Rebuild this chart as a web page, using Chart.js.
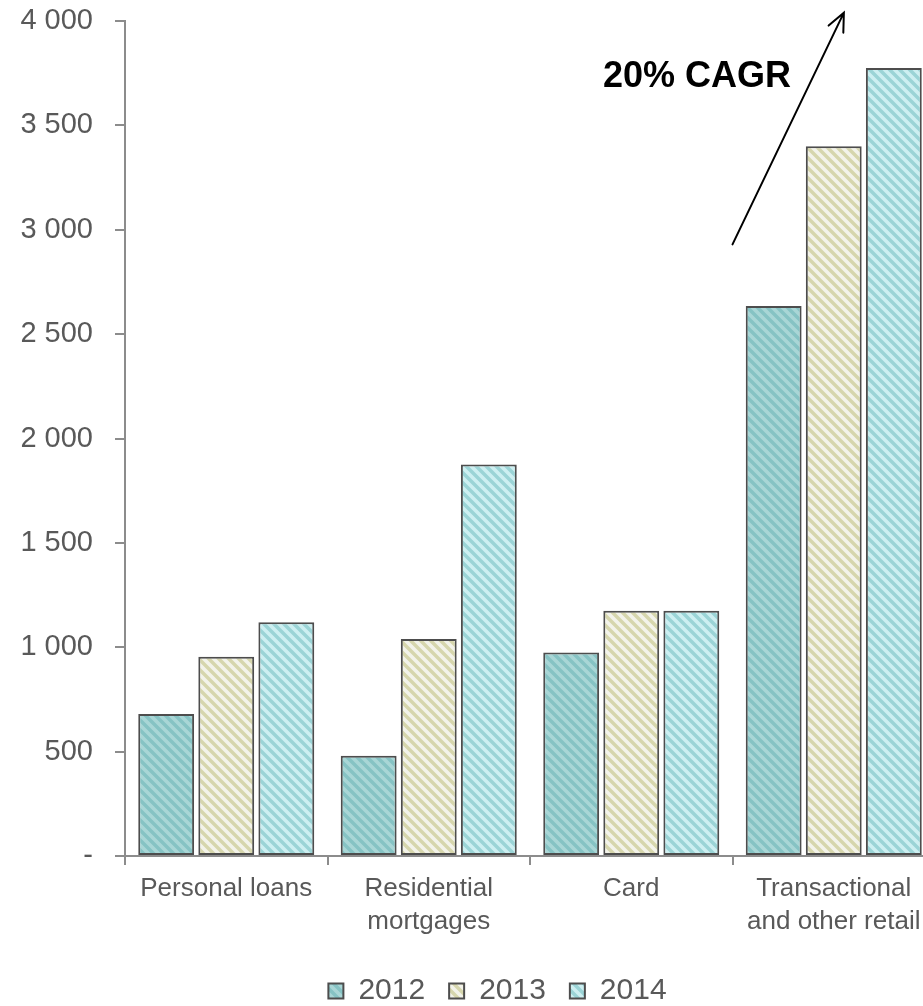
<!DOCTYPE html>
<html>
<head>
<meta charset="utf-8">
<script src="https://cdn.jsdelivr.net/npm/chart.js@4.4.1/dist/chart.umd.min.js"></script>
<style>
  html, body { margin: 0; padding: 0; background: #fff; overflow: hidden; }
  #wrap { width: 935px; height: 1006px; }
</style>
</head>
<body>
<div id="wrap"><canvas id="chart" width="935" height="1006"></canvas></div>
<script>
var categories = [['Personal loans'], ['Residential', 'mortgages'], ['Card'], ['Transactional', 'and other retail']]
var years = ['2012', '2013', '2014']
var values2012 = [680, 480, 975, 2635]
var values2013 = [955, 1040, 1175, 3400]
var values2014 = [1120, 1875, 1175, 3775]
var yTicks = [0, 500, 1000, 1500, 2000, 2500, 3000, 3500, 4000]
var growthLabel = '20% CAGR'

var FONT = '"Liberation Sans", Arial, Helvetica, sans-serif'
var GREY = '#595959'

// diagonal hatch fill, stripes running top-left to bottom-right
function hatch(base, stripe){
    var s = 10
    var c = document.createElement('canvas')
    c.width = s
    c.height = s
    var g = c.getContext('2d')
    g.fillStyle = base
    g.fillRect(0, 0, s, s)
    g.strokeStyle = stripe
    g.lineWidth = 3.5
    g.beginPath()
    g.moveTo(-1, -1); g.lineTo(s + 1, s + 1)
    g.moveTo(s - 3, -3); g.lineTo(s + 3, 3)
    g.moveTo(-3, s - 3); g.lineTo(3, s + 3)
    g.stroke()
    return g.createPattern(c, 'repeat')
}

function spaced(v){
    if (v === 0) return '-'
    return String(v).replace(/\B(?=(\d{3})+(?!\d))/g, ' ')
}

// growth arrow + label, placed in data space
var growthArrow = {
    id: 'growthArrow',
    afterDraw: function(chart){
        var x = chart.scales.x, y = chart.scales.y, ctx = chart.ctx
        var x0 = x.getPixelForValue(2.5), y0 = y.getPixelForValue(2930)
        var x1 = x.getPixelForValue(3.05), y1 = y.getPixelForValue(4040)
        var a = Math.atan2(y1 - y0, x1 - x0)
        var head = 20
        ctx.save()
        ctx.strokeStyle = '#000'
        ctx.lineWidth = 2
        ctx.lineCap = 'round'
        ctx.beginPath()
        ctx.moveTo(x0, y0)
        ctx.lineTo(x1, y1)
        ctx.moveTo(x1 - head * Math.cos(a - 0.42), y1 - head * Math.sin(a - 0.42))
        ctx.lineTo(x1, y1)
        ctx.lineTo(x1 - head * Math.cos(a + 0.42), y1 - head * Math.sin(a + 0.42))
        ctx.stroke()
        ctx.fillStyle = '#000'
        ctx.font = 'bold 36px ' + FONT
        ctx.textAlign = 'left'
        ctx.textBaseline = 'alphabetic'
        ctx.fillText(growthLabel, x.getPixelForValue(1.86), y.getPixelForValue(3684))
        ctx.restore()
    }
}

// nudge the legend row to the right so it sits under the plot
var legendShift = {
    id: 'legendShift',
    afterLayout: function(chart){
        chart.legend.left += 30
        chart.legend.right += 30
    }
}

var ctx = document.getElementById('chart').getContext('2d')
var fills = [hatch('#a9d6d6', '#86c3c4'), hatch('#f3f3ea', '#d6d6ad'), hatch('#cdeff1', '#9bd4d6')]
var series = [values2012, values2013, values2014]

new Chart(ctx, {
    type: 'bar',
    data: {
        labels: categories,
        datasets: years.map(function(yr, i){
            return {
                label: yr,
                data: series[i],
                backgroundColor: fills[i],
                borderColor: '#4d4d4d',
                borderWidth: 2,
                borderSkipped: false,
                categoryPercentage: 0.89,
                barPercentage: 0.93
            }
        })
    },
    options: {
        responsive: false,
        animation: false,
        layout: { padding: 0 },
        plugins: {
            legend: {
                position: 'bottom',
                maxHeight: 54,
                labels: {
                    boxWidth: 15,
                    boxHeight: 15,
                    padding: 24,
                    color: GREY,
                    font: { family: FONT, size: 30 }
                }
            },
            tooltip: { enabled: false }
        },
        scales: {
            x: {
                afterFit: function(s){ s.height = 96 },
                border: { display: true, color: '#8c8c8c', width: 2 },
                grid: { display: true, drawOnChartArea: false, drawTicks: true, tickLength: 9, color: '#8c8c8c', lineWidth: 2 },
                ticks: { color: GREY, padding: 8, maxRotation: 0, autoSkip: false, font: { family: FONT, size: 26, lineHeight: 1.24 } }
            },
            y: {
                min: 0,
                max: 4000,
                afterFit: function(s){ s.width = 125; s.paddingTop = 21 },
                afterBuildTicks: function(s){ s.ticks = yTicks.map(function(v){ return { value: v } }) },
                border: { display: true, color: '#8c8c8c', width: 2 },
                grid: { display: true, drawOnChartArea: false, drawTicks: true, tickLength: 10, color: '#8c8c8c', lineWidth: 2 },
                ticks: { color: GREY, padding: 22, font: { family: FONT, size: 29 }, callback: function(v){ return spaced(v) } }
            }
        }
    },
    plugins: [growthArrow, legendShift]
})
</script>
</body>
</html>
